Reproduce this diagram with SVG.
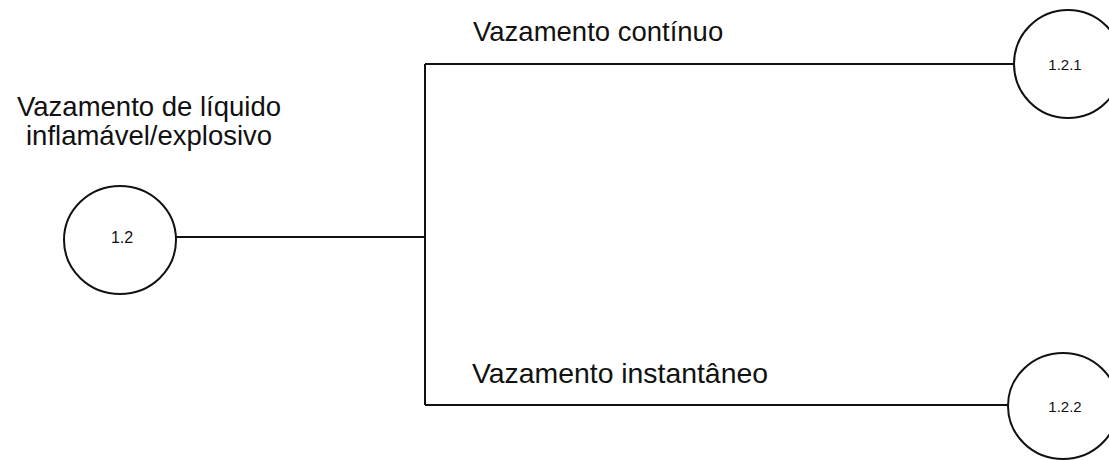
<svg xmlns="http://www.w3.org/2000/svg" width="1109" height="460" viewBox="0 0 1109 460">
<style>
.node{fill:#fff;stroke:#111;stroke-width:2}
.conn{fill:none;stroke:#111;stroke-width:2}
.lbl{font-family:"Liberation Sans",Arial,sans-serif;font-size:27.5px;fill:#111}
.num{font-family:"Liberation Sans",Arial,sans-serif;font-size:15px;fill:#111;text-anchor:middle}
</style>
<rect width="1109" height="460" fill="#fff"/>
<g id="connectors">
<path class="conn" d="M176,237 H425"/>
<path class="conn" d="M425,64 V405"/>
<path class="conn" d="M425,64 H1014"/>
<path class="conn" d="M425,405 H1008"/>
</g>
<g id="title">
<text class="lbl" x="17" y="116">Vazamento de líquido</text>
<text class="lbl" x="26" y="145">inflamável/explosivo</text>
</g>
<g id="label-continuo">
<text class="lbl" x="473" y="41">Vazamento contínuo</text>
</g>
<g id="label-instantaneo">
<text class="lbl" x="472" y="383" textLength="296" lengthAdjust="spacingAndGlyphs" style="font-size:28px">Vazamento instantâneo</text>
</g>
<g id="node-1.2">
<ellipse class="node" cx="120" cy="240" rx="56" ry="54"/>
<text class="num" x="122" y="243" style="font-size:16px">1.2</text>
</g>
<g id="node-1.2.1">
<ellipse class="node" cx="1068" cy="64" rx="54" ry="54"/>
<text class="num" x="1065" y="70">1.2.1</text>
</g>
<g id="node-1.2.2">
<ellipse class="node" cx="1063" cy="406" rx="55" ry="53"/>
<text class="num" x="1065" y="412">1.2.2</text>
</g>
</svg>
